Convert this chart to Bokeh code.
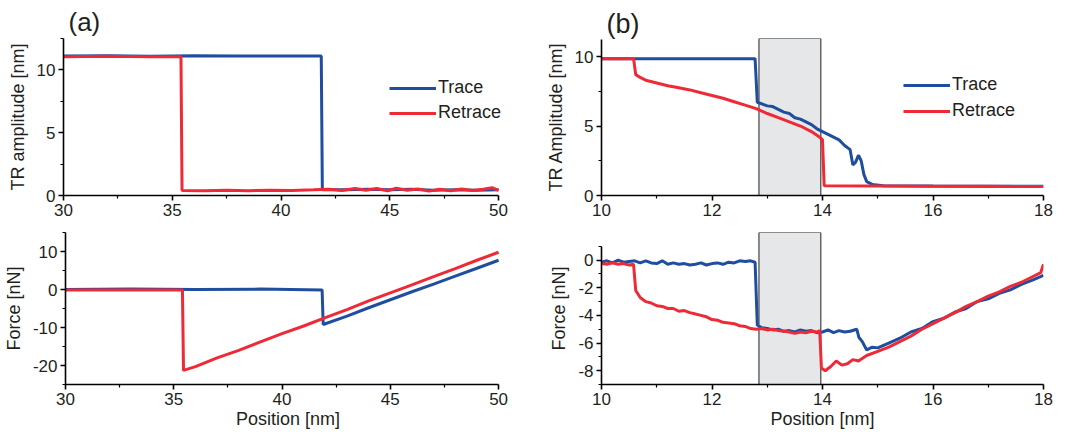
from bokeh.plotting import figure
from bokeh.models import Range1d, FixedTicker, Legend, LegendItem
from bokeh.layouts import column, row
from bokeh.embed import file_html
from bokeh.resources import INLINE

# ---------------- data ----------------
# panel (a) top: TR amplitude [nm]
a_top_trace_x = [30, 32, 34, 36, 38, 40, 41.85, 41.9, 43, 44, 45, 46, 47, 48, 49, 50]
a_top_trace_y = [11.1, 11.12, 11.08, 11.12, 11.1, 11.1, 11.1, 0.45, 0.45, 0.5, 0.45, 0.5, 0.42, 0.45, 0.42, 0.45]
a_top_retrace_x = [30, 32, 34, 35.4, 35.45, 36.5, 37.5, 38.5, 39.5, 40.5, 41.5, 42.2, 42.8, 43.4, 43.9, 44.4,
                   44.9, 45.3, 45.8, 46.3, 46.8, 47.3, 47.8, 48.3, 48.8, 49.3, 49.7, 50]
a_top_retrace_y = [11.05, 11.08, 11.05, 11.05, 0.4, 0.38, 0.42, 0.38, 0.42, 0.4, 0.45, 0.5, 0.4, 0.55, 0.42, 0.55,
                   0.38, 0.58, 0.42, 0.52, 0.35, 0.5, 0.38, 0.52, 0.4, 0.5, 0.62, 0.4]

# panel (a) bottom: Force [nN]
a_bot_trace_x = [30, 33, 36, 39, 41.85, 41.9, 43, 44, 45, 46, 47, 48, 49, 50]
a_bot_trace_y = [0.0, 0.1, 0.0, 0.1, -0.1, -9.2, -7.0, -4.8, -2.7, -0.6, 1.4, 3.5, 5.6, 7.7]
a_bot_retrace_x = [30, 33, 35.4, 35.45, 36, 37, 38, 39, 40, 41, 42, 43, 44, 45, 46, 47, 48, 49, 50]
a_bot_retrace_y = [-0.1, -0.1, -0.1, -21.3, -20.3, -18.0, -16.0, -13.8, -11.6, -9.6, -7.4, -5.3, -3.0, -0.9, 1.2, 3.4, 5.5, 7.7, 9.8]

# panel (b) top: TR Amplitude [nm]
b_top_trace_x = [10, 11, 12, 12.78, 12.82, 12.9, 13.0, 13.1, 13.2, 13.3, 13.4, 13.5, 13.6, 13.7, 13.8, 13.9,
                 14.0, 14.1, 14.2, 14.3, 14.4, 14.5, 14.55, 14.6, 14.65, 14.7, 14.75, 14.8, 14.9, 15.1, 16, 17, 18]
b_top_trace_y = [9.85, 9.85, 9.85, 9.85, 6.7, 6.6, 6.45, 6.4, 6.2, 6.0, 5.9, 5.6, 5.5, 5.3, 5.1, 4.8,
                 4.6, 4.4, 4.2, 4.0, 3.6, 3.3, 2.2, 2.4, 2.9, 2.5, 1.5, 1.0, 0.8, 0.7, 0.68, 0.67, 0.66]
b_top_retrace_x = [10, 10.58, 10.62, 10.7, 10.8, 11.0, 11.2, 11.4, 11.6, 11.8, 12.0, 12.2, 12.4, 12.6, 12.8,
                   13.0, 13.2, 13.4, 13.6, 13.8, 13.95, 14.0, 14.03, 15, 16, 17, 18]
b_top_retrace_y = [9.85, 9.85, 8.7, 8.5, 8.3, 8.1, 7.9, 7.75, 7.6, 7.4, 7.2, 7.0, 6.75, 6.5, 6.25,
                   5.9, 5.6, 5.3, 5.0, 4.6, 4.2, 4.0, 0.7, 0.68, 0.66, 0.66, 0.65]

# panel (b) bottom: Force [nN]
b_bot_trace_x = [10, 10.1, 10.2, 10.3, 10.4, 10.5, 10.6, 10.7, 10.8, 10.9, 11.0, 11.1, 11.2, 11.3, 11.4, 11.5,
                 11.6, 11.7, 11.8, 11.9, 12.0, 12.1, 12.2, 12.3, 12.4, 12.5, 12.6, 12.7, 12.78, 12.82,
                 12.9, 13.0, 13.1, 13.2, 13.3, 13.4, 13.5, 13.6, 13.7, 13.8, 13.9, 14.0, 14.1, 14.2, 14.3,
                 14.4, 14.5, 14.62, 14.66, 14.72, 14.8, 14.9, 15.0, 15.2, 15.4, 15.6, 15.8, 16.0, 16.2,
                 16.4, 16.6, 16.8, 17.0, 17.2, 17.4, 17.6, 17.8, 18.0]
b_bot_trace_y = [-0.15, -0.05, -0.2, 0.0, -0.15, -0.1, -0.05, -0.2, -0.05, -0.2, -0.25, -0.05, -0.3, -0.2, -0.3, -0.25,
                 -0.35, -0.3, -0.2, -0.35, -0.25, -0.2, -0.3, -0.15, -0.2, -0.05, -0.1, -0.05, -0.15, -4.7,
                 -4.9, -4.95, -5.05, -5.0, -5.15, -5.1, -5.2, -5.05, -5.15, -5.1, -5.25, -5.2, -5.05, -5.25, -5.1,
                 -5.2, -5.15, -5.0, -5.6, -5.9, -6.5, -6.3, -6.35, -6.0, -5.65, -5.2, -4.95, -4.45, -4.2,
                 -3.75, -3.5, -3.0, -2.8, -2.4, -2.15, -1.75, -1.45, -1.1]
b_bot_retrace_x = [10, 10.1, 10.2, 10.3, 10.4, 10.5, 10.58, 10.62, 10.7, 10.8, 10.9, 11.0, 11.1, 11.2, 11.3, 11.4,
                   11.5, 11.6, 11.7, 11.8, 11.9, 12.0, 12.1, 12.2, 12.3, 12.4, 12.5, 12.6, 12.7, 12.8, 12.9,
                   13.0, 13.1, 13.2, 13.3, 13.4, 13.5, 13.6, 13.7, 13.8, 13.9, 13.95, 13.98, 14.05, 14.15,
                   14.25, 14.35, 14.45, 14.55, 14.65, 14.8, 15.0, 15.2, 15.4, 15.6, 15.8, 16.0, 16.2, 16.4,
                   16.6, 16.8, 17.0, 17.2, 17.4, 17.6, 17.8, 17.95, 18.0]
b_bot_retrace_y = [-0.25, -0.3, -0.2, -0.3, -0.25, -0.35, -0.3, -2.2, -2.7, -3.0, -3.1, -3.3, -3.35, -3.5, -3.5, -3.7,
                   -3.65, -3.8, -3.9, -4.0, -4.1, -4.3, -4.35, -4.5, -4.55, -4.6, -4.75, -4.8, -4.95, -5.0, -4.95,
                   -5.05, -5.0, -5.1, -5.15, -5.2, -5.3, -5.2, -5.25, -5.15, -5.2, -5.1, -7.8, -8.0, -7.7,
                   -7.3, -7.6, -7.5, -7.2, -7.3, -6.9, -6.6, -6.3, -5.9, -5.5, -5.0, -4.6, -4.2, -3.8,
                   -3.35, -3.0, -2.6, -2.3, -1.9, -1.6, -1.2, -0.9, -0.3]

# highlighted region in panel (b)
box_left = [12.85]
box_right = [13.97]

series_names = ["Trace", "Retrace"]
panel_labels = ["(a)", "(b)"]

a_xticks = [30, 35, 40, 45, 50]
a_xminor = [32.5, 37.5, 42.5, 47.5]
a_top_yticks = [0, 5, 10]
a_top_yminor = [2.5, 7.5, 12.5]
a_bot_yticks = [-20, -10, 0, 10]
a_bot_yminor = [-25, -15, -5, 5, 15]
b_xticks = [10, 12, 14, 16, 18]
b_xminor = [11, 13, 15, 17]
b_top_yticks = [0, 5, 10]
b_top_yminor = [2.5, 7.5]
b_bot_yticks = [-8, -6, -4, -2, 0]
b_bot_yminor = [-9, -7, -5, -3, -1, 1]

# ---------------- style ----------------
BLUE = "#1f4e9e"
RED = "#ee2a36"
TXT = "#231f20"
FONT = "Liberation Sans"


def make_fig(w, h, xr, xbounds, yr, bl, br, bt, bb, xt, xm, yt, ym, ybounds, xlabel, ylabel,
             title=None, title_standoff=0, title_size="26px"):
    p = figure(width=w, height=h, x_range=Range1d(*xr), y_range=Range1d(*yr),
               output_backend="svg", toolbar_location=None,
               min_border_left=bl, min_border_right=br, min_border_top=bt, min_border_bottom=bb)
    p.grid.visible = False
    p.outline_line_color = None
    p.xaxis.ticker = FixedTicker(ticks=xt, minor_ticks=xm)
    p.yaxis.ticker = FixedTicker(ticks=yt, minor_ticks=ym)
    p.xaxis.bounds = xbounds
    p.yaxis.bounds = ybounds
    p.yaxis.major_label_overrides = {t: str(t) for t in yt}
    for ax in (p.xaxis[0], p.yaxis[0]):
        ax.axis_line_color = "black"
        ax.axis_line_width = 1.6
        ax.major_tick_line_color = "black"
        ax.major_tick_line_width = 1.6
        ax.minor_tick_line_color = "black"
        ax.minor_tick_line_width = 1.2
        ax.major_tick_in = 0
        ax.major_tick_out = 5
        ax.minor_tick_in = 0
        ax.minor_tick_out = 3
        ax.major_label_text_font = FONT
        ax.major_label_text_font_size = "17px"
        ax.major_label_text_color = TXT
        ax.axis_label_text_font = FONT
        ax.axis_label_text_font_size = "18px"
        ax.axis_label_text_font_style = "normal"
        ax.axis_label_text_color = TXT
    p.xaxis.major_label_standoff = 3
    p.yaxis.major_label_standoff = 3
    p.xaxis.axis_label_standoff = 1
    p.yaxis.axis_label_standoff = 6
    if xlabel:
        p.xaxis.axis_label = xlabel
    p.yaxis.axis_label = ylabel
    if title:
        p.title.text = title
        p.title.text_font = FONT
        p.title.text_font_size = title_size
        p.title.text_font_style = "normal"
        p.title.text_color = TXT
        p.title.align = "left"
        p.title.offset = 5
        p.title.standoff = title_standoff
    return p


def add_legend(p, r1, r2, x, y, glyph_w, spacing):
    leg = Legend(items=[LegendItem(label=series_names[0], renderers=[r1]),
                        LegendItem(label=series_names[1], renderers=[r2])],
                 location=(x, y), padding=0, margin=0, spacing=spacing,
                 glyph_width=glyph_w, glyph_height=20, label_standoff=2,
                 label_text_font=FONT, label_text_font_size="18px", label_text_color=TXT,
                 border_line_color=None, background_fill_alpha=0)
    p.add_layout(leg)


LW = 3

# (a) top  -- frame extends a little past x=50 so the legend text fits; axis stops at 50
ta = make_fig(540, 220, (30, 50.55), (30, 50), (0, 12.5), 63, 30, 38, 25,
              a_xticks, a_xminor, a_top_yticks, a_top_yminor, (0, 12.5), None, "TR amplitude [nm]",
              title=panel_labels[0], title_standoff=3, title_size="26px")
r1 = ta.line(a_top_trace_x, a_top_trace_y, line_color=BLUE, line_width=LW)
r2 = ta.line(a_top_retrace_x, a_top_retrace_y, line_color=RED, line_width=LW)
add_legend(ta, r1, r2, 326, 72, 47, 4)

# (b) top
tb = make_fig(533, 220, (10, 18), (10, 18), (0, 11.3), 61, 30, 32, 25,
              b_xticks, b_xminor, b_top_yticks, b_top_yminor, (0, 11.2), None, "TR Amplitude [nm]",
              title=panel_labels[1], title_standoff=0, title_size="27px")
tb.quad(left=box_left, right=box_right, bottom=[0], top=[11.3],
        fill_color="#e6e7e8", line_color="#231f20", line_width=1)
r3 = tb.line(b_top_trace_x, b_top_trace_y, line_color=BLUE, line_width=LW)
r4 = tb.line(b_top_retrace_x, b_top_retrace_y, line_color=RED, line_width=LW)
add_legend(tb, r3, r4, 302, 74, 47, 5)

# (a) bottom
ba = make_fig(540, 216, (30, 50.55), (30, 50), (-25, 15), 63, 30, 12, 52,
              a_xticks, a_xminor, a_bot_yticks, a_bot_yminor, (-25, 15), "Position [nm]", "Force [nN]")
ba.line(a_bot_trace_x, a_bot_trace_y, line_color=BLUE, line_width=LW)
ba.line(a_bot_retrace_x, a_bot_retrace_y, line_color=RED, line_width=LW)

# (b) bottom
bb = make_fig(533, 216, (10, 18), (10, 18), (-9, 2.0), 61, 30, 3, 50,
              b_xticks, b_xminor, b_bot_yticks, b_bot_yminor, (-9, 1), "Position [nm]", "Force [nN]")
bb.quad(left=box_left, right=box_right, bottom=[-9], top=[2.0],
        fill_color="#e6e7e8", line_color="#231f20", line_width=1)
bb.line(b_bot_trace_x, b_bot_trace_y, line_color=BLUE, line_width=LW)
bb.line(b_bot_retrace_x, b_bot_retrace_y, line_color=RED, line_width=LW)

layout = column(row(ta, tb), row(ba, bb))

open("out.html", "w").write(file_html(layout, INLINE))
